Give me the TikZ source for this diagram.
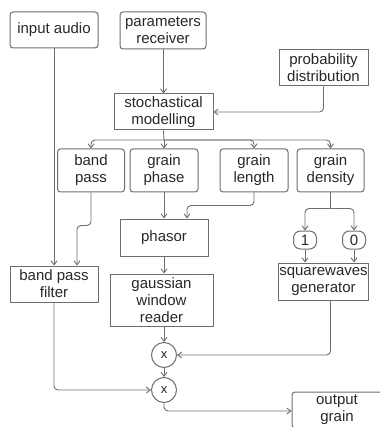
\documentclass[tikz,border=0pt]{standalone}
\usepackage{fontspec}
\setmainfont{Liberation Sans}
\usetikzlibrary{arrows.meta, positioning, calc}

\definecolor{linegray}{RGB}{110,110,110}
\definecolor{textgray}{RGB}{40,40,40}

\tikzset{
  box/.style={draw=linegray, line width=1pt, align=center, text=textgray,
    inner sep=1pt, font=\fontsize{15}{17}\selectfont},
  rbox/.style={box, rounded corners=3pt},
  flag/.style={box, rounded corners=7pt, minimum width=23pt, minimum height=18pt},
  mult/.style={draw=linegray, line width=1pt, circle, minimum size=25pt,
    inner sep=0pt, text=textgray, font=\fontsize{13}{13}\selectfont},
  conn/.style={draw=linegray, line width=0.9pt, rounded corners=4pt,
    -{Straight Barb[length=4pt,width=6pt]}}
}

\begin{document}
\begin{tikzpicture}[x=1pt, y=1pt]
\useasboundingbox (0,0) rectangle (379,-427);

% Sources
\node[rbox, minimum width=88pt, minimum height=36pt] (inaudio) at (54,-30) {input audio};
\node[rbox, minimum width=86pt, minimum height=37pt] (params) at (163,-30.5) {parameters\\receiver};
\node[box, minimum width=89pt, minimum height=36pt] (probdist) at (323.5,-68) {probability\\distribution};

% Stochastical modelling
\node[box, minimum width=99pt, minimum height=36pt] (stoch) at (163.5,-112) {stochastical\\modelling};

% Grain parameters
\node[rbox, minimum width=67pt, minimum height=43pt] (bandpass) at (91,-170.5) {band\\pass};
\node[rbox, minimum width=68pt, minimum height=43pt] (gphase) at (164,-170.5) {grain\\phase};
\node[rbox, minimum width=68pt, minimum height=43pt] (glength) at (254,-170.5) {grain\\length};
\node[rbox, minimum width=67pt, minimum height=43pt] (gdensity) at (330.5,-170.5) {grain\\density};

% Processing
\node[box, minimum width=88pt, minimum height=37pt] (phasor) at (164,-237.5) {phasor};
\node[box, minimum width=103pt, minimum height=52pt] (gauss) at (161.5,-300) {gaussian\\window\\reader};
\node[box, minimum width=88pt, minimum height=36pt] (bpfilter) at (54,-284) {band pass\\filter};
\node[flag] (one) at (305,-240) {1};
\node[flag] (zero) at (354,-240) {0};
\node[box, minimum width=89pt, minimum height=37pt] (squarewave) at (323.5,-281.5) {squarewaves\\generator};

% Multipliers and output
\node[mult] (mult1) at (164,-355) {x};
\node[mult] (mult2) at (164,-390) {x};
\node[rbox, minimum width=90pt, minimum height=36pt] (output) at (337,-410) {output\\grain};

% Connectors
\draw[conn] (params.south -| stoch.north) -- (stoch.north);
\draw[conn] (probdist.south) |- (stoch.east);
\coordinate (split) at (164,-140);
\draw[line width=0.9pt, draw=linegray] (stoch.south) -- (split);
\draw[conn] (split) -| (bandpass.north);
\draw[conn] (split) -- (gphase.north);
\draw[conn] (split) -| (glength.north);
\draw[conn] (split) -| (gdensity.north);

\draw[conn] (inaudio) -- (bpfilter);
\draw[conn] (bandpass.south) -- ++(0,-33) -| ([xshift=23pt]bpfilter.north);
\draw[conn] (gphase) -- (phasor);
\draw[conn] (glength.south) -- ++(0,-13) -| ([xshift=23pt]phasor.north);
\draw[conn] (phasor.south) -- (phasor.south |- gauss.north);

\coordinate (dsplit) at ($(gdensity.south)+(0,-16)$);
\draw[line width=0.9pt, draw=linegray] (gdensity.south) -- (dsplit);
\draw[conn] (dsplit) -| (one.north);
\draw[conn] (dsplit) -| (zero.north);
\draw[conn] (one.south) -- (one.south |- squarewave.north);
\draw[conn] (zero.south) -- (zero.south |- squarewave.north);

\draw[conn] (gauss.south -| mult1.north) -- (mult1.north);
\draw[conn] ([xshift=7pt]squarewave.south) |- (mult1.east);
\draw[conn] (mult1) -- (mult2);
\draw[conn] (bpfilter.south) |- (mult2.west);
\draw[conn] (mult2.south) |- ([yshift=-1pt]output.west);
\end{tikzpicture}
\end{document}
